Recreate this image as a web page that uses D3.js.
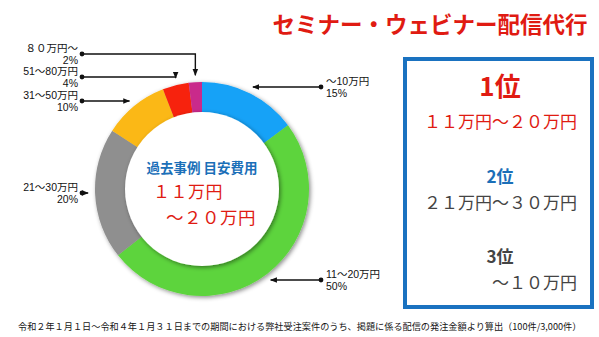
<!DOCTYPE html>
<html lang="ja">
<head>
<meta charset="utf-8">
<script src="https://cdn.jsdelivr.net/npm/d3@7"></script>
<style>
  html, body { margin: 0; padding: 0; background: #fff; }
  svg { display: block; font-family: "Noto Sans CJK JP", "Noto Sans", sans-serif; }
  .lbl { font-family: "Liberation Sans", "Noto Sans CJK JP", sans-serif; }
</style>
</head>
<body>
<svg id="chart" width="599" height="337"></svg>
<script>
// Price bands of past webinar/seminar streaming jobs (clockwise from 12 o'clock)
const bandNames   = ["～10万円", "11～20万円", "21～30万円", "31～50万円", "51～80万円", "８０万円～"];
const bandShares  = [15, 50, 20, 10, 4, 2];
const bandColors  = ["#14a2f7", "#5dd43c", "#8f8f8f", "#fbb814", "#f7200d", "#c92a8b"];

// Ranking panel
const rankTitles  = ["1位", "2位", "3位"];
const rankBands   = ["１１万円～２０万円", "２１万円～３０万円", "～１０万円"];

const titleText   = "セミナー・ウェビナー配信代行";
const centerHead  = "過去事例 目安費用";
const centerLines = ["１１万円", "～２０万円"];
const footnote    = "令和２年１月１日～令和４年１月３１日までの期間における弊社受注案件のうち、掲題に係る配信の発注金額より算出（100件/3,000件）";

// Leader layout: which side each label sits on and the height of its leader line
const labelSide = ["right", "right", "left", "left", "left", "left"];
const labelY    = [87, 280, 193, 101, 77, 54];

const svg = d3.select("#chart");
const cx = 202, cy = 189, rOuter = 107, rInner = 77;

const defs = svg.append("defs");
const sh = defs.append("filter").attr("id", "shadow")
  .attr("x", "-20%").attr("y", "-20%").attr("width", "140%").attr("height", "140%");
sh.append("feDropShadow").attr("dx", 1.5).attr("dy", 1.5)
  .attr("stdDeviation", 2).attr("flood-color", "#000").attr("flood-opacity", 0.45);

defs.append("marker").attr("id", "arrow")
  .attr("viewBox", "0 0 10 10").attr("refX", 9).attr("refY", 5)
  .attr("markerWidth", 5).attr("markerHeight", 5).attr("orient", "auto")
  .append("path").attr("d", "M0,1 L10,5 L0,9 Z").attr("fill", "#111");

// Title
svg.append("text").attr("x", 430).attr("y", 33).attr("text-anchor", "middle")
  .attr("font-size", 22.5).attr("font-weight", 700).attr("fill", "#e01b12")
  .text(titleText);

// Donut
const pie = d3.pie().sort(null).value(d => d)(bandShares);
const arc = d3.arc().innerRadius(rInner - 8).outerRadius(rOuter);
const g = svg.append("g").attr("transform", `translate(${cx},${cy})`);
g.append("g").attr("filter", "url(#shadow)")
  .selectAll("path").data(pie).join("path")
  .attr("d", arc).attr("fill", (d, i) => bandColors[i]);
g.append("circle").attr("r", rInner).attr("fill", "#fff").attr("filter", "url(#shadow)");

// Center text
g.append("text").attr("x", 0).attr("y", -16).attr("text-anchor", "middle")
  .attr("font-size", 13.5).attr("font-weight", 700).attr("fill", "#1b6fb8")
  .text(centerHead);
g.append("text").attr("x", -49).attr("y", 9)
  .attr("font-size", 17).attr("fill", "#e01b12").attr("letter-spacing", 0.5)
  .text(centerLines[0]);
g.append("text").attr("x", -36).attr("y", 35)
  .attr("font-size", 17.5).attr("fill", "#e01b12").attr("letter-spacing", 0.5)
  .text(centerLines[1]);

// Leader lines and labels
const leadR = rOuter + 7;
const labels = svg.append("g");
pie.forEach((d, i) => {
  const side = labelSide[i];
  const y = labelY[i];
  const dotX = side === "left" ? 82 : 321;
  const dy = y - cy;
  let path;
  if (Math.abs(dy) < leadR - 10) {
    const ex = cx + (side === "left" ? -1 : 1) * Math.sqrt(leadR * leadR - dy * dy);
    path = `M${dotX},${y} L${ex},${y}`;
  } else {
    // slice sits at the very top: run over, then drop down onto its mid angle
    const mid = (d.startAngle + d.endAngle) / 2;
    const ex = cx + rOuter * Math.sin(mid);
    const ey = cy - Math.sqrt(leadR * leadR - (ex - cx) * (ex - cx));
    path = `M${dotX},${y} L${ex},${y} L${ex},${ey}`;
  }
  labels.append("path").attr("d", path).attr("fill", "none")
    .attr("stroke", "#111").attr("stroke-width", 1.4).attr("marker-end", "url(#arrow)");
  labels.append("circle").attr("cx", dotX).attr("cy", y).attr("r", 2.4).attr("fill", "#111");
  const tx = side === "left" ? 78 : 326;
  const anchor = side === "left" ? "end" : "start";
  labels.append("text").attr("class", "lbl").attr("text-anchor", anchor)
    .attr("x", tx).attr("y", y - 2)
    .attr("font-size", 10.5).attr("fill", "#111").text(bandNames[i]);
  labels.append("text").attr("class", "lbl").attr("text-anchor", anchor)
    .attr("x", tx).attr("y", y + 9.5)
    .attr("font-size", 10.5).attr("fill", "#111").text(bandShares[i] + "%");
});

// Ranking panel
svg.append("rect").attr("x", 405).attr("y", 59).attr("width", 187).attr("height", 248)
  .attr("fill", "#fff").attr("stroke", "#1a72c0").attr("stroke-width", 4);
const rankColors = ["#e01b12", "#1b6fb8", "#444"];
const bandColorsText = ["#e01b12", "#444", "#444"];
const rankTitleY = [96, 183, 263];
const rankTitleSize = [26, 17, 17];
const rankBandY = [128, 209, 289];
rankTitles.forEach((t, i) => {
  svg.append("text").attr("x", 500).attr("y", rankTitleY[i]).attr("text-anchor", "middle")
    .attr("font-size", rankTitleSize[i]).attr("font-weight", 700).attr("fill", rankColors[i])
    .text(t);
  svg.append("text").attr("x", 577).attr("y", rankBandY[i]).attr("text-anchor", "end")
    .attr("font-size", 17).attr("fill", bandColorsText[i])
    .text(rankBands[i]);
});

// Footnote: size the font so the line spans the page width
const note = svg.append("text").attr("x", 18).attr("y", 330)
  .attr("font-size", 10).attr("fill", "#151515").text(footnote);
const natural = note.node().getComputedTextLength();
note.attr("font-size", (10 * 564 / natural).toFixed(2));
</script>
</body>
</html>
